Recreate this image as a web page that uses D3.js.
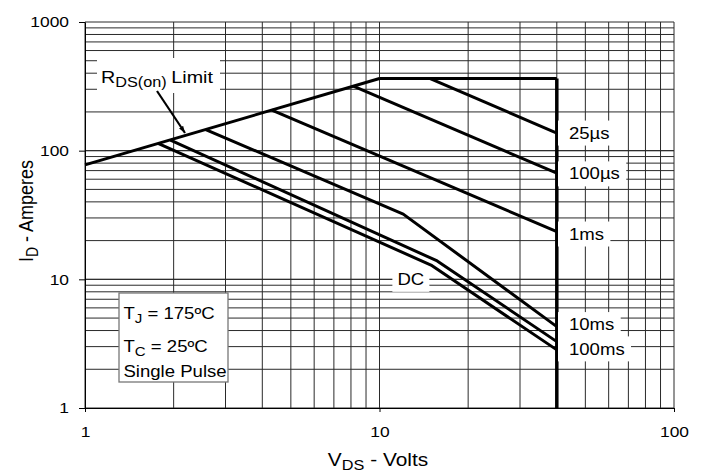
<!DOCTYPE html>
<html>
<head>
<meta charset="utf-8">
<script src="https://cdn.jsdelivr.net/npm/d3@7"></script>
<style>
  body { margin: 0; background: #fff; }
  text { font-family: Arial, "Liberation Sans", sans-serif; fill: #000; }
</style>
</head>
<body>
<div id="graph"></div>
<script>
// safe operating area (V in volts, I in amperes)
var rdsLimit = [[1, 77.6], [10, 364]];
var currentLimit = [[10, 364], [40, 364]];
var voltageLimit = [[40, 364], [40, 1]];
var pulse25us = [[14.8, 364], [40, 137]];
var pulse100us = [[8.15, 317], [40, 66.8]];
var pulse1ms = [[4.31, 207], [40, 23.5]];
var pulse10ms = [[2.57, 146], [12.04, 32.1], [40, 4.29]];
var pulse100ms = [[1.95, 121], [15.7, 13.9], [40, 3.28]];
var dcLine = [[1.77, 114], [14.96, 12.9], [40, 2.83]];

var curveNames = ["25µs", "100µs", "1ms", "10ms", "100ms"];
var curveLabelAt = [137, 66, 22.5, 4.45, 2.88];  // amperes, at V = 44
var xTicks = [1, 10, 100];
var yTicks = [1, 10, 100, 1000];

var width = 708;
var height = 472;
var SX = 1.16; // the picture is stretched sideways, so is its lettering

var svg = d3.select('#graph').append('svg')
  .attr("width", width)
  .attr("height", height);

var x = d3.scaleLog().domain([1, 100]).range([85, 674]);
var y = d3.scaleLog().domain([1, 1000]).range([408, 22]);

// grid
var xGrid = [], yGrid = [];
for (var d = 1; d < 100; d *= 10)
  for (var k = 1; k <= 10; k++) xGrid.push(k * d);
for (var d = 1; d < 1000; d *= 10)
  for (var k = 1; k <= 10; k++) yGrid.push(k * d);

var grid = svg.append("g").attr("stroke", "#2a2a2a").attr("stroke-width", 1);
grid.selectAll(".gx").data(xGrid).enter().append("line")
  .attr("class", "gx")
  .attr("x1", function(d) { return x(d); }).attr("x2", function(d) { return x(d); })
  .attr("y1", y(1)).attr("y2", y(1000));
grid.selectAll(".gy").data(yGrid).enter().append("line")
  .attr("class", "gy")
  .attr("y1", function(d) { return y(d); }).attr("y2", function(d) { return y(d); })
  .attr("x1", x(1)).attr("x2", x(100));

// axes
var yAxis = svg.append("g")
  .attr("transform", "translate(" + x(1) + ",0)")
  .call(d3.axisLeft(y).tickValues(yTicks).tickFormat(d3.format("d")).tickSize(6).tickSizeOuter(0));
var xAxis = svg.append("g")
  .attr("transform", "translate(0," + y(1) + ")")
  .call(d3.axisBottom(x).tickValues(xTicks).tickFormat(d3.format("d")).tickSize(4).tickPadding(14).tickSizeOuter(0));

[yAxis, xAxis].forEach(function(a) {
  a.select(".domain").attr("stroke", "#000");
  a.selectAll(".tick line").attr("stroke", "#000");
  a.selectAll(".tick text")
    .attr("font-size", 15)
    .attr("font-family", "Arial, 'Liberation Sans', sans-serif")
    .attr("fill", "#000")
    .attr("transform", "scale(" + SX + ",1)");
});
yAxis.selectAll(".tick text").attr("x", -16 / SX);

// axis titles
svg.append("text")
  .attr("transform", "translate(378,466) scale(" + SX + ",1)")
  .attr("text-anchor", "middle")
  .attr("font-size", 18)
  .html('V<tspan font-size="14" dy="4">DS</tspan><tspan dy="-4"> - Volts</tspan>');

svg.append("text")
  .attr("transform", "translate(33,211) scale(" + SX + ",1) rotate(-90)")
  .attr("text-anchor", "middle")
  .attr("font-size", 18)
  .html('I<tspan font-size="14" dy="4">D</tspan><tspan dy="-4"> - Amperes</tspan>');

// curves
var line = d3.line()
  .x(function(d) { return x(d[0]); })
  .y(function(d) { return y(d[1]); });

var curves = [rdsLimit, currentLimit, pulse25us, pulse100us, pulse1ms, pulse10ms, pulse100ms, dcLine];
svg.selectAll(".curve").data(curves).enter().append("path")
  .attr("class", "curve")
  .attr("d", line)
  .attr("fill", "none")
  .attr("stroke", "#000")
  .attr("stroke-width", 3)
  .attr("stroke-linejoin", "round");

svg.append("path")
  .attr("d", line(voltageLimit))
  .attr("fill", "none")
  .attr("stroke", "#000")
  .attr("stroke-width", 3.5);

// labels on white patches that cut the grid
function patchLabel(str, px, py, fs) {
  var g = svg.append("g");
  var rect = g.append("rect").attr("fill", "#fff");
  var t = g.append("text")
    .attr("transform", "translate(" + px + "," + py + ") scale(" + SX + ",1)")
    .attr("font-size", fs)
    .attr("dy", "0.35em")
    .text(str);
  var b = t.node().getBBox();
  rect.attr("x", px - 11).attr("y", py - 12.5)
    .attr("width", b.width * SX + 17).attr("height", 25);
  return g;
}

curveNames.forEach(function(name, i) {
  patchLabel(name, x(44), y(curveLabelAt[i]), 16);
});

var dc = patchLabel("DC", x(11.5), y(10), 16);
dc.select("rect").attr("x", x(11.5) - 5).attr("width", 37);

// R_DS(on) limit label and arrow
svg.append("rect").attr("x", 97).attr("y", 58).attr("width", 123).attr("height", 35).attr("fill", "#fff");
svg.append("text")
  .attr("transform", "translate(101,83) scale(" + SX + ",1)")
  .attr("font-size", 17)
  .html('R<tspan font-size="14" dy="4">DS(on)</tspan><tspan dy="-4" dx="4">Limit</tspan>');

svg.append("defs").append("marker")
  .attr("id", "head")
  .attr("viewBox", "0 0 10 10")
  .attr("refX", 10).attr("refY", 5)
  .attr("markerWidth", 7).attr("markerHeight", 7)
  .attr("markerUnits", "userSpaceOnUse")
  .attr("orient", "auto")
  .append("path").attr("d", "M0,1.5L10,5L0,8.5Z").attr("fill", "#000");
svg.append("line")
  .attr("x1", 157).attr("y1", 91).attr("x2", 185).attr("y2", 133)
  .attr("stroke", "#000").attr("stroke-width", 2.2)
  .attr("marker-end", "url(#head)");

// conditions box
svg.append("rect")
  .attr("x", 119).attr("y", 293).attr("width", 109).attr("height", 89)
  .attr("fill", "#fff").attr("stroke", "#777").attr("stroke-width", 1.3);
var cond = [
  ['T<tspan font-size="13" dy="4">J</tspan><tspan dy="-4"> = 175ºC</tspan>', 319],
  ['T<tspan font-size="13" dy="4">C</tspan><tspan dy="-4"> = 25ºC</tspan>', 352],
  ['Single Pulse', 377]
];
cond.forEach(function(c) {
  svg.append("text")
    .attr("transform", "translate(123.5," + c[1] + ") scale(" + SX + ",1)")
    .attr("font-size", 16)
    .html(c[0]);
});
</script>
</body>
</html>
